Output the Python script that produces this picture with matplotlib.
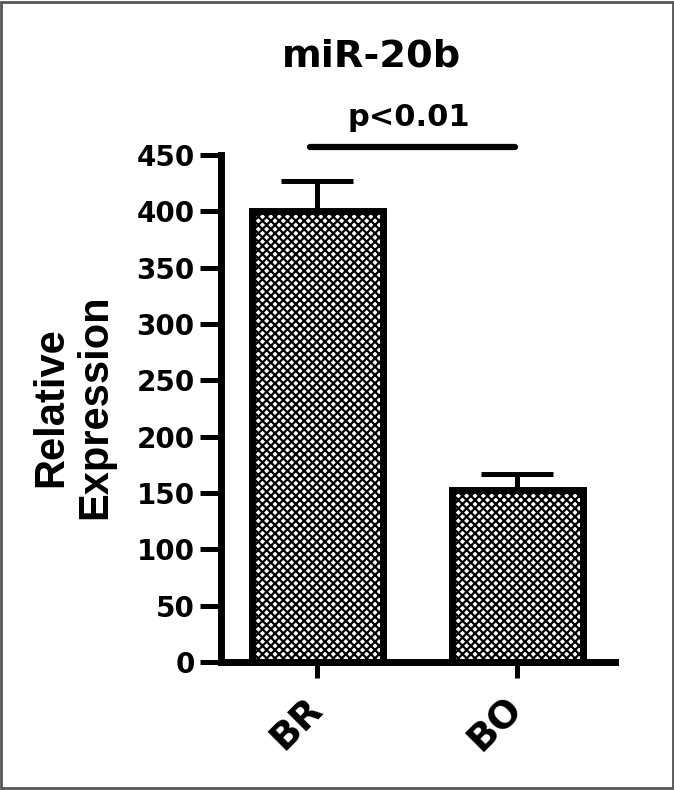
import matplotlib
matplotlib.use("Agg")
from matplotlib import pyplot as plt
from matplotlib.patches import Rectangle

groups = ["BR", "BO"]
means = [400, 153]
errs = [26.5, 14]
sig_y = 457.5
sig_text = "p<0.01"
title = "miR-20b"
ylabel = "Relative\nExpression"

plt.rcParams["font.family"] = ["DejaVu Sans"]
plt.rcParams["font.weight"] = "bold"
plt.rcParams["hatch.linewidth"] = 1.6

W, H = 674, 790
fig = plt.figure(figsize=(W / 100, H / 100), dpi=100)
# axes box in pixels: spine x=221..615, y=662 (0) .. 155 (450)
ax = fig.add_axes([221 / W, 1 - 662 / H, (615 - 221) / W, (662 - 155) / H])

x = list(range(len(groups)))
ax.bar(x, means, width=0.655, color="white", edgecolor="black",
       linewidth=5, hatch="xxxx", zorder=2)
ax.errorbar(x, means, yerr=[[0] * len(errs), errs], fmt="none",
            ecolor="black", elinewidth=3.6, capsize=26, capthick=3.6, zorder=1)

ax.plot([-0.035, 0.99], [sig_y, sig_y], color="black", lw=4.5,
        solid_capstyle="round", clip_on=False)
ax.text(0.4575, 475.7, sig_text, ha="center", va="baseline", fontsize=22,
        fontweight="bold")

ax.set_xlim(-0.48, 1.49)
ax.set_ylim(0, 450)
ax.set_yticks(range(0, 451, 50))
ax.set_xticks(x)
ax.set_xticklabels(groups, rotation=45, ha="right", va="center",
                   rotation_mode="anchor")
ax.tick_params(axis="y", labelsize=20, width=3.6, length=15, pad=4)
ax.tick_params(axis="x", labelsize=27, width=3.6, length=11.5, pad=18)
for t in ax.get_xticklabels() + ax.get_yticklabels():
    t.set_fontweight("bold")

for s in ["top", "right"]:
    ax.spines[s].set_visible(False)
for s in ["left", "bottom"]:
    ax.spines[s].set_linewidth(5)
    ax.spines[s].set_capstyle("projecting")

fig.text(73.5 / W, 1 - 407 / H, ylabel, rotation=90, ha="center", va="center",
         rotation_mode="anchor", fontsize=30, fontweight="bold",
         family="Liberation Sans", linespacing=1.12)
fig.text(371.5 / W, 1 - 66.7 / H, title, ha="center", va="baseline",
         fontsize=27.5, fontweight="bold")

fig.patches.append(Rectangle((0.002, 0.002), 0.996, 0.996, transform=fig.transFigure,
                             fill=False, edgecolor="#555555", linewidth=2))

fig.savefig("out.png", dpi=100)
